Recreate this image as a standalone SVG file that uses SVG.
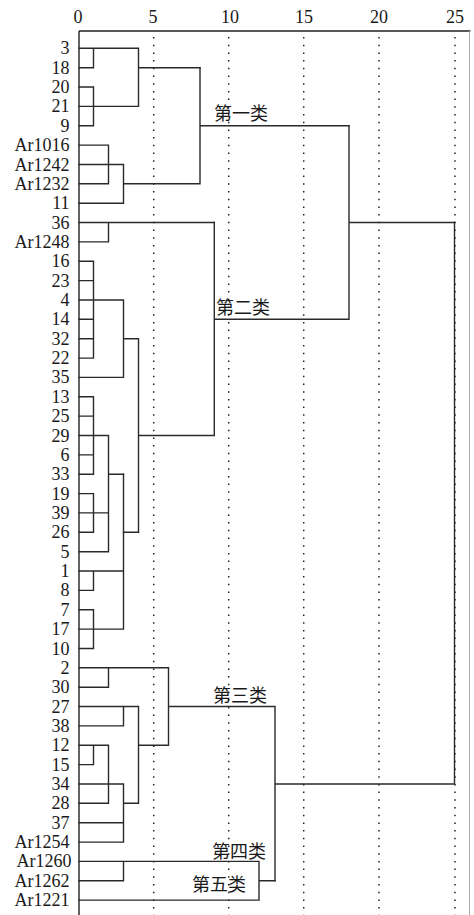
<svg xmlns="http://www.w3.org/2000/svg" width="474" height="915" viewBox="0 0 474 915">
<style>
.lbl{font-family:"Liberation Serif","Times New Roman",serif;font-size:18px;fill:#1a1a1a;text-anchor:end}
.ax{font-family:"Liberation Serif","Times New Roman",serif;font-size:18px;fill:#1a1a1a;text-anchor:middle}
.cn{font-family:"Noto Sans CJK SC","Noto Sans CJK TC",sans-serif;font-size:18px;fill:#1a1a1a}
.ln{fill:none;stroke:#2a2a2a;stroke-width:1.4;stroke-linecap:square}
.dot{fill:none;stroke:#222;stroke-width:1.5;stroke-dasharray:1.5 6.2}
.frame{fill:none;stroke:#222;stroke-width:1.4}
</style>
<rect width="474" height="915" fill="#fff"/>
<g id="axis">
<text class="ax" x="78" y="23">0</text>
<text class="ax" x="153" y="23">5</text>
<text class="ax" x="230" y="23">10</text>
<text class="ax" x="304" y="23">15</text>
<text class="ax" x="379" y="23">20</text>
<text class="ax" x="455" y="23">25</text>
<path class="frame" d="M79,31 H470.5 M79,31 V915"/>
<path d="M469.5,31 V915" stroke="#aaa" stroke-width="1" fill="none"/>
<path class="dot" d="M153.7,37 V915 M228.7,37 V915 M303.7,37 V915 M379,37 V915 M455,37 V915"/>
</g>
<g id="leaves">
<g id="n3"><text class="lbl" x="69.5" y="54.3">3</text></g>
<g id="n18"><text class="lbl" x="69.5" y="73.7">18</text></g>
<g id="n20"><text class="lbl" x="69.5" y="93">20</text></g>
<g id="n21"><text class="lbl" x="69.5" y="112.4">21</text></g>
<g id="n9"><text class="lbl" x="69.5" y="131.7">9</text></g>
<g id="nAr1016"><text class="lbl" x="69.5" y="151.1">Ar1016</text></g>
<g id="nAr1242"><text class="lbl" x="69.5" y="170.5">Ar1242</text></g>
<g id="nAr1232"><text class="lbl" x="69.5" y="189.8">Ar1232</text></g>
<g id="n11"><text class="lbl" x="69.5" y="209.2">11</text></g>
<g id="n36"><text class="lbl" x="69.5" y="228.5">36</text></g>
<g id="nAr1248"><text class="lbl" x="69.5" y="247.9">Ar1248</text></g>
<g id="n16"><text class="lbl" x="69.5" y="267.3">16</text></g>
<g id="n23"><text class="lbl" x="69.5" y="286.6">23</text></g>
<g id="n4"><text class="lbl" x="69.5" y="306">4</text></g>
<g id="n14"><text class="lbl" x="69.5" y="325.3">14</text></g>
<g id="n32"><text class="lbl" x="69.5" y="344.7">32</text></g>
<g id="n22"><text class="lbl" x="69.5" y="364.1">22</text></g>
<g id="n35"><text class="lbl" x="69.5" y="383.4">35</text></g>
<g id="n13"><text class="lbl" x="69.5" y="402.8">13</text></g>
<g id="n25"><text class="lbl" x="69.5" y="422.1">25</text></g>
<g id="n29"><text class="lbl" x="69.5" y="441.5">29</text></g>
<g id="n6"><text class="lbl" x="69.5" y="460.9">6</text></g>
<g id="n33"><text class="lbl" x="69.5" y="480.2">33</text></g>
<g id="n19"><text class="lbl" x="69.5" y="499.6">19</text></g>
<g id="n39"><text class="lbl" x="69.5" y="518.9">39</text></g>
<g id="n26"><text class="lbl" x="69.5" y="538.3">26</text></g>
<g id="n5"><text class="lbl" x="69.5" y="557.7">5</text></g>
<g id="n1"><text class="lbl" x="69.5" y="577">1</text></g>
<g id="n8"><text class="lbl" x="69.5" y="596.4">8</text></g>
<g id="n7"><text class="lbl" x="69.5" y="615.7">7</text></g>
<g id="n17"><text class="lbl" x="69.5" y="635.1">17</text></g>
<g id="n10"><text class="lbl" x="69.5" y="654.5">10</text></g>
<g id="n2"><text class="lbl" x="69.5" y="673.8">2</text></g>
<g id="n30"><text class="lbl" x="69.5" y="693.2">30</text></g>
<g id="n27"><text class="lbl" x="69.5" y="712.5">27</text></g>
<g id="n38"><text class="lbl" x="69.5" y="731.9">38</text></g>
<g id="n12"><text class="lbl" x="69.5" y="751.3">12</text></g>
<g id="n15"><text class="lbl" x="69.5" y="770.6">15</text></g>
<g id="n34"><text class="lbl" x="69.5" y="790">34</text></g>
<g id="n28"><text class="lbl" x="69.5" y="809.3">28</text></g>
<g id="n37"><text class="lbl" x="69.5" y="828.7">37</text></g>
<g id="nAr1254"><text class="lbl" x="69.5" y="848.1">Ar1254</text></g>
<g id="nAr1260"><text class="lbl" x="71.5" y="867.4">Ar1260</text></g>
<g id="nAr1262"><text class="lbl" x="69.5" y="886.8">Ar1262</text></g>
<g id="nAr1221"><text class="lbl" x="69.5" y="906.1">Ar1221</text></g>
</g>
<g id="classes">
<g id="c1"><text class="cn" x="214" y="119.5">第一类</text></g>
<g id="c2"><text class="cn" x="216" y="313.5">第二类</text></g>
<g id="c3"><text class="cn" x="213" y="701.5">第三类</text></g>
<g id="c4"><text class="cn" x="212" y="857.5">第四类</text></g>
<g id="c5"><text class="cn" x="192" y="890.5">第五类</text></g>
</g>
<g id="connectors">
<path class="ln" d="M79,48.3 H138.5 M79,67.7 H93.5 M93.5,48.3 V67.7 M79,87 H93.5 M79,106.4 H138.5 M79,125.7 H93.5 M93.5,87 V125.7 M138.5,48.3 V106.4 M138.5,67.7 H200"/>
<path class="ln" d="M79,145.1 H108.5 M79,164.5 H123.5 M79,183.8 H108.5 M108.5,145.1 V183.8 M79,203.2 H123.5 M123.5,164.5 V203.2 M123.5,183.8 H200 M200,67.7 V183.8 M200,125.7 H349"/>
<path class="ln" d="M79,222.5 H214.3 M79,241.9 H108.5 M108.5,222.5 V241.9"/>
<path class="ln" d="M79,261.3 H93.5 M79,280.6 H93.5 M79,300 H123.5 M79,319.3 H93.5 M79,338.7 H93.5 M79,358.1 H93.5 M93.5,261.3 V358.1 M79,377.4 H123.5 M123.5,300 V377.4 M123.5,338.7 H138.5 M138.5,338.7 V532.3 M138.5,435.5 H214.3 M214.3,222.5 V435.5 M214.3,319.3 H349 M349,125.7 V319.3 M349,222.5 H454.5"/>
<path class="ln" d="M79,396.8 H93.5 M79,416.1 H93.5 M79,435.5 H108.5 M79,454.9 H93.5 M79,474.2 H93.5 M93.5,396.8 V474.2 M108.5,474.2 H123.5 M79,493.6 H93.5 M79,512.9 H108.5 M79,532.3 H93.5 M93.5,493.6 V532.3 M79,551.7 H108.5 M108.5,435.5 V551.7 M123.5,532.3 H138.5"/>
<path class="ln" d="M79,571 H123.5 M79,590.4 H93.5 M93.5,571 V590.4 M79,609.7 H93.5 M79,629.1 H123.5 M79,648.5 H93.5 M93.5,609.7 V648.5 M123.5,474.2 V629.1"/>
<path class="ln" d="M79,667.8 H168.5 M79,687.2 H108.5 M108.5,667.8 V687.2 M79,706.5 H138.5 M79,725.9 H123.5 M123.5,706.5 V725.9 M79,745.3 H108.5 M79,764.6 H93.5 M93.5,745.3 V764.6 M79,784 H123.5 M79,803.3 H108.5 M108.5,745.3 V803.3 M79,822.7 H123.5 M79,842.1 H123.5 M123.5,784 V842.1 M123.5,803.3 H138.5 M138.5,706.5 V803.3 M138.5,745.3 H168.5 M168.5,667.8 V745.3 M168.5,706.5 H275 M275,706.5 V880.8 M275,784 H454.5 M454.5,222.5 V784"/>
<path class="ln" d="M79,861.4 H259 M79,880.8 H123.5 M123.5,861.4 V880.8 M79,900.1 H259 M259,861.4 V900.1 M259,880.8 H275"/>
</g>
</svg>
